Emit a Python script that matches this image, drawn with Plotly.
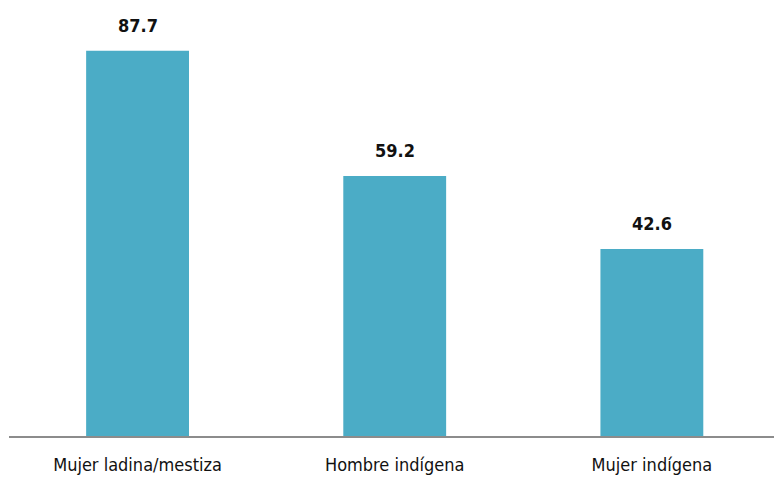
import plotly.graph_objects as go

categories = ["Mujer ladina/mestiza", "Hombre indígena", "Mujer indígena"]
values = [87.7, 59.2, 42.6]
value_labels = ["87.7", "59.2", "42.6"]

FONT = "DejaVu Sans Condensed, Liberation Sans Narrow, Arial Narrow, sans-serif"

fig = go.Figure(go.Bar(
    x=categories, y=values, width=0.4,
    marker=dict(color="#4BACC6", line=dict(width=0)),
))
for c, v, t in zip(categories, values, value_labels):
    fig.add_annotation(x=c, y=v, text=t, showarrow=False, yanchor="bottom", yshift=13,
                       font=dict(family=FONT, size=18, color="#111111", weight="bold"))
fig.update_layout(
    width=774, height=477,
    margin=dict(l=9, r=0, t=10, b=41),
    paper_bgcolor="white", plot_bgcolor="white",
    showlegend=False,
    font=dict(family=FONT, size=18, color="#111111"),
)
fig.update_xaxes(range=[-0.5, 2.475], showline=True, linecolor="#8c8c8c", linewidth=1.5,
                 ticks="", showgrid=False, ticklabelstandoff=12,
                 tickfont=dict(family=FONT, size=18, color="#111111"))
fig.update_yaxes(range=[0, 97], visible=False, showgrid=False)
fig.write_html("out.html", config={"displayModeBar": False},
               post_script="document.body.style.margin='0';document.body.style.overflow='hidden';")
